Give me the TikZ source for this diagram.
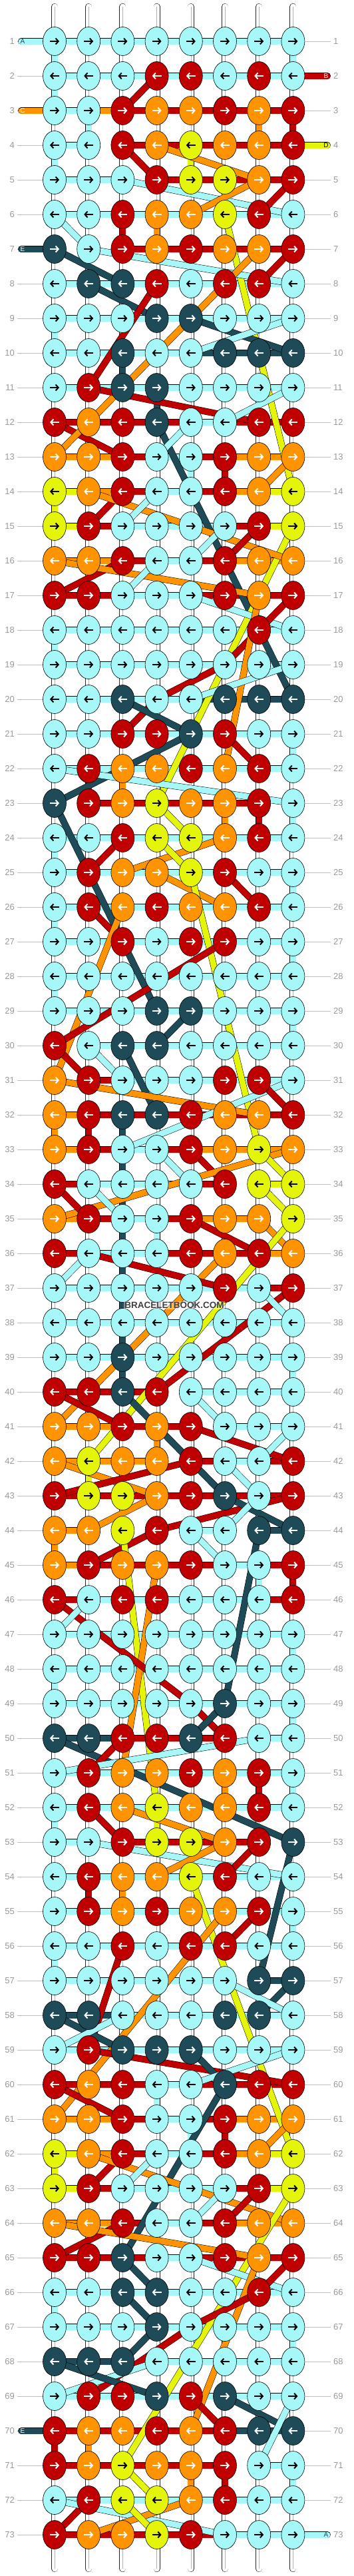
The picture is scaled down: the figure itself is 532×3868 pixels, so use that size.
\documentclass[tikz,border=0pt]{standalone}
\usepackage{fontspec}
\setmainfont{Liberation Sans}
\usetikzlibrary{arrows.meta}
\usetikzlibrary{shapes.geometric}

\pgfdeclarelayer{warp}
\pgfdeclarelayer{back}
\pgfsetlayers{warp,back,main}

\definecolor{kC}{HTML}{A6F7F7}
\definecolor{kR}{HTML}{C00000}
\definecolor{kO}{HTML}{FF9400}
\definecolor{kY}{HTML}{E5F50A}
\definecolor{kD}{HTML}{1E4B57}
\colorlet{aC}{black}
\colorlet{aY}{black}
\colorlet{aR}{white}
\colorlet{aO}{white}
\colorlet{aD}{white}

\tikzset{
  knot/.style={ellipse, draw=black, line width=0.6pt, minimum width=35pt, minimum height=43pt, inner sep=0pt},
  knotarrow/.style={line width=2pt, -{Straight Barb[length=4pt,width=9pt]}},
  strand/.style={draw=black, line width=0.5pt, double=#1, double distance=9pt},
  tail/.style={strand=#1, line cap=round},
  warp/.style={draw=black!85, line width=0.5pt, double=white, double distance=9pt, line cap=round},
  warpmid/.style={draw=black!30, line width=0.6pt},
  rowlabel/.style={text=black!40, font=\fontsize{13}{13}\selectfont, inner sep=4pt},
  rowline/.style={draw=black!25, line width=0.8pt},
  taillabel/.style={font=\fontsize{10}{10}\selectfont, inner sep=0pt}
}

\begin{document}
\begin{tikzpicture}[x=1pt,y=-1pt]
\useasboundingbox (0,0) rectangle (532,3868);

\foreach \cl in {1,...,8} {
  \coordinate (wt-\cl) at ({82+(\cl-1)*51.2},10);
  \coordinate (wb-\cl) at ({82+(\cl-1)*51.2},3857);
  \begin{pgfonlayer}{warp}
    \draw[warp] (wt-\cl) -- (wb-\cl);
    \draw[warpmid] (wt-\cl) -- (wb-\cl);
  \end{pgfonlayer}
}

\foreach \rw/\kn/\br in {
 1/{C,C,C,C,C,C,C,C}/{C,C,C,C,C,C,C},
 2/{C,C,C,R,R,C,R,C}/{C,C,C,C,C,C,C},
 3/{C,C,R,O,O,R,O,R}/{C,O,R,R,R,R,R},
 4/{C,C,R,O,Y,O,O,R}/{C,-,R,R,R,R,R},
 5/{C,C,C,R,Y,Y,O,R}/{C,C,-,R,R,R,R},
 6/{C,C,R,O,O,Y,R,C}/{C,C,C,C,C,C,C},
 7/{D,C,R,O,R,O,O,R}/{-,-,R,R,R,R,R},
 8/{C,D,D,R,C,R,R,C}/{C,C,C,C,C,C,C},
 9/{C,C,C,D,D,C,C,C}/{C,C,C,C,C,C,C},
 10/{C,C,D,C,C,D,D,D}/{C,C,C,C,D,D,D},
 11/{C,R,D,D,C,C,C,C}/{C,C,C,C,C,C,C},
 12/{R,O,R,D,C,C,R,R}/{R,R,R,R,C,R,R},
 13/{O,O,R,C,C,R,O,O}/{O,O,R,C,R,O,O},
 14/{Y,O,R,C,C,R,O,Y}/{Y,O,R,C,R,O,Y},
 15/{Y,R,C,C,C,C,R,Y}/{Y,R,C,C,C,R,Y},
 16/{O,O,R,C,C,R,O,O}/{O,O,R,C,R,O,O},
 17/{R,R,C,C,C,R,O,R}/{R,R,C,C,R,R,R},
 18/{C,C,C,C,C,C,R,C}/{C,C,C,C,C,C,C},
 19/{C,C,C,C,C,C,C,C}/{C,C,C,C,C,C,C},
 20/{C,C,D,C,C,D,D,D}/{C,C,C,C,D,D,D},
 21/{C,C,R,R,D,R,C,C}/{C,C,C,C,C,C,C},
 22/{C,R,O,O,R,O,R,C}/{C,C,C,C,C,C,C},
 23/{D,R,O,Y,O,O,R,C}/{-,R,R,R,R,R,-},
 24/{C,C,R,Y,Y,O,R,C}/{C,C,C,C,C,C,C},
 25/{C,R,O,O,Y,R,C,C}/{C,C,C,C,C,C,C},
 26/{C,R,O,R,O,O,R,C}/{C,C,C,C,C,C,C},
 27/{C,C,R,C,R,R,C,C}/{C,C,C,C,C,C,C},
 28/{C,C,C,C,C,C,C,C}/{C,C,C,C,C,C,C},
 29/{C,C,C,D,D,C,C,C}/{C,C,C,C,C,C,C},
 30/{R,C,D,D,C,C,C,C}/{-,C,C,C,C,C,C},
 31/{O,R,C,C,C,R,R,C}/{-,R,C,C,C,C,C},
 32/{O,R,D,D,R,O,O,R}/{O,R,R,R,R,R,R},
 33/{O,R,C,C,R,O,Y,O}/{O,R,C,R,O,O,O},
 34/{R,C,C,C,C,R,Y,Y}/{R,C,C,C,R,-,Y},
 35/{O,R,C,C,R,O,O,Y}/{O,R,C,R,O,O,-},
 36/{R,C,C,C,R,O,R,O}/{R,C,C,R,R,R,O},
 37/{C,C,C,C,C,R,C,R}/{C,C,C,C,C,C,R},
 38/{C,C,C,C,C,C,C,C}/{C,C,C,C,C,C,C},
 39/{C,C,D,C,C,C,C,C}/{C,C,C,C,C,C,C},
 40/{R,R,D,R,C,C,C,C}/{R,R,R,-,C,C,C},
 41/{O,O,R,O,R,C,C,C}/{O,O,R,R,-,C,C},
 42/{O,Y,O,O,R,C,C,R}/{O,O,O,-,R,C,R},
 43/{R,Y,Y,O,R,D,C,R}/{R,R,R,R,R,R,R},
 44/{O,O,Y,R,C,C,D,D}/{O,-,-,-,C,-,D},
 45/{O,R,O,O,R,C,C,R}/{O,R,R,R,R,C,R},
 46/{R,C,R,R,C,C,C,R}/{R,C,C,C,C,C,R},
 47/{C,C,C,C,C,C,C,C}/{C,C,C,C,C,C,C},
 48/{C,C,C,C,C,C,C,C}/{C,C,C,C,C,C,C},
 49/{C,C,C,C,C,D,C,C}/{C,C,C,C,C,C,C},
 50/{D,D,R,R,D,R,C,C}/{D,D,R,R,R,-,C},
 51/{C,R,O,O,R,O,R,C}/{C,C,C,C,C,C,C},
 52/{C,R,O,Y,O,O,R,C}/{C,C,C,C,C,C,C},
 53/{C,C,R,Y,Y,O,R,D}/{C,-,R,R,R,R,-},
 54/{C,R,O,O,Y,R,C,C}/{C,C,C,C,C,C,C},
 55/{C,R,O,R,O,O,R,C}/{C,C,C,C,C,C,C},
 56/{C,C,R,C,R,R,C,C}/{C,C,C,C,C,C,C},
 57/{C,C,C,C,C,C,D,D}/{C,C,C,C,C,-,D},
 58/{D,D,C,C,C,D,D,C}/{D,D,C,C,C,C,C},
 59/{C,R,D,D,D,C,C,C}/{C,C,C,C,C,C,C},
 60/{R,O,R,C,C,D,R,R}/{R,R,R,C,R,R,R},
 61/{O,O,R,C,C,R,O,O}/{O,O,R,C,R,O,O},
 62/{Y,O,R,C,C,R,O,Y}/{Y,O,R,C,R,O,Y},
 63/{Y,R,C,C,C,C,R,Y}/{Y,R,C,C,C,R,Y},
 64/{O,O,R,C,C,R,O,O}/{O,O,R,C,R,O,O},
 65/{R,R,D,C,C,R,O,R}/{R,R,R,C,R,R,R},
 66/{C,C,D,D,C,C,R,C}/{C,C,C,C,C,C,C},
 67/{C,C,C,D,C,C,C,C}/{C,C,C,C,C,C,C},
 68/{D,D,D,C,C,C,C,C}/{D,D,-,C,C,C,C},
 69/{C,R,R,D,R,D,C,C}/{C,C,C,C,C,C,C},
 70/{R,O,O,R,O,R,D,D}/{R,R,R,R,R,D,D},
 71/{R,O,Y,O,O,R,C,C}/{R,R,R,R,R,-,C},
 72/{C,R,Y,Y,O,R,C,C}/{C,C,C,C,C,C,C},
 73/{R,O,O,Y,R,C,C,C}/{R,R,R,R,R,C,C}} {
  \pgfmathsetmacro\yy{62+(\rw-1)*52}
  \foreach \kc [count=\cl] in \kn {
    \node[knot, fill=k\kc] (k-\rw-\cl) at ({82+(\cl-1)*51.2},\yy) {};
    \ifodd\rw
      \draw[knotarrow, draw=a\kc] ([xshift=-7pt]k-\rw-\cl.center) -- ([xshift=7pt]k-\rw-\cl.center);
    \else
      \draw[knotarrow, draw=a\kc] ([xshift=7pt]k-\rw-\cl.center) -- ([xshift=-7pt]k-\rw-\cl.center);
    \fi
  }
  \node[rowlabel, anchor=east] (ln-\rw) at (26,\yy) {\rw};
  \node[rowlabel, anchor=west] (rn-\rw) at (497,\yy) {\rw};
  \begin{pgfonlayer}{warp}
    \draw[rowline] (ln-\rw.east) -- (k-\rw-1.center);
    \draw[rowline] (k-\rw-8.center) -- (rn-\rw.west);
  \end{pgfonlayer}
  \begin{pgfonlayer}{back}
    \foreach \bc [count=\cl] in \br {
      \if\bc-\else
        \pgfmathtruncatemacro\nx{\cl+1}
        \draw[strand=k\bc] (k-\rw-\cl.center) -- (k-\rw-\nx.center);
      \fi
    }
  \end{pgfonlayer}
}

% threads carried behind the knots
\begin{pgfonlayer}{back}
\foreach \fa/\fb/\fc in {
 1-1/2-1/C,
 1-8/2-8/C, 2-1/3-1/C, 3-2/4-2/C, 3-7/4-7/O, 3-8/4-8/R, 4-1/5-1/C, 4-5/5-5/Y,
 6-3/7-3/R, 6-4/7-4/O, 9-1/10-1/C, 10-3/11-3/D, 11-4/12-4/D, 13-5/14-5/C,
 13-6/14-6/R, 14-1/15-1/Y, 18-1/19-1/C, 21-8/22-8/C, 22-2/23-2/R, 22-3/23-3/O,
 23-6/24-6/O, 23-7/24-7/R, 23-8/24-8/C, 24-1/25-1/C, 25-8/26-8/C, 26-1/27-1/C,
 27-8/28-8/C, 28-1/29-1/C, 29-8/30-8/C, 32-1/33-1/O, 32-2/33-2/R, 32-3/40-3/D,
 35-4/36-4/C, 39-8/40-8/C, 41-4/42-4/O, 42-2/43-2/Y, 44-1/45-1/O, 45-7/46-7/C,
 45-8/46-8/R, 47-8/48-8/C, 48-1/49-1/C, 49-8/50-8/C, 51-6/52-6/O, 51-7/52-7/R,
 51-8/52-8/C, 52-1/53-1/C, 52-4/53-4/Y, 54-2/55-2/R, 54-3/55-3/O, 55-8/56-8/C,
 56-1/57-1/C, 60-4/61-4/C, 61-5/62-5/C, 61-6/62-6/R, 62-1/63-1/Y, 64-4/65-4/C,
 66-1/67-1/C, 67-8/68-8/C, 70-1/71-1/R, 70-2/71-2/O, 71-5/72-5/O, 71-6/72-6/R,
 71-8/72-8/C,
 2-4/3-3/R, 4-3/5-4/R, 4-4/5-7/O, 5-3/6-8/C, 5-7/6-5/O, 5-8/6-7/R, 6-1/7-2/C,
 6-6/14-8/Y, 7-2/8-8/C, 7-1/8-3/D, 8-2/9-4/D, 8-4/11-2/R, 7-7/12-2/O, 7-8/8-7/R,
 9-5/10-8/D, 9-8/10-5/C, 11-2/12-7/R, 11-8/12-6/C, 12-1/13-3/R, 12-2/13-1/O,
 12-4/20-8/D, 12-5/13-4/C, 15-8/23-4/Y, 13-8/14-7/O, 14-3/15-2/R, 14-2/16-8/O,
 14-4/15-3/C, 15-6/16-5/C, 15-7/16-6/R, 16-3/17-1/R, 16-1/17-7/O, 16-4/17-3/C,
 17-5/18-8/C, 17-8/18-7/R, 18-7/19-6/R, 19-6/20-4/R, 20-4/21-3/R, 17-7/22-6/O,
 19-8/20-5/C, 20-3/21-5/D, 21-5/23-1/D, 21-6/22-7/R, 22-1/23-8/C, 23-1/29-4/D,
 23-4/24-5/Y, 24-3/25-2/R, 24-6/25-3/O, 24-4/25-5/Y, 25-4/26-6/O, 25-6/26-7/R,
 25-5/33-7/Y, 26-2/27-3/R, 26-3/31-1/O, 27-6/30-1/R, 29-5/30-4/D, 30-1/31-2/R,
 30-2/31-3/C, 30-3/32-4/D, 31-1/32-7/O, 31-8/33-3/C, 31-7/32-8/R, 33-5/34-6/R,
 33-4/34-5/C, 33-8/35-1/O, 33-7/34-8/Y, 34-1/35-2/R, 34-2/35-3/C, 34-7/35-8/Y,
 35-7/36-8/O, 35-5/36-7/R, 35-8/42-2/Y, 36-6/41-1/O, 36-2/37-6/R, 36-2/37-1/C,
 37-8/40-4/R, 37-7/38-8/C, 40-1/41-3/R, 40-3/43-6/D, 40-5/41-6/C, 41-5/42-8/R,
 41-8/42-7/C, 42-1/43-4/O, 42-5/43-1/R, 42-6/43-7/C, 43-4/44-2/O, 43-8/44-4/R,
 43-6/44-8/D, 43-7/44-6/C, 44-4/45-2/R, 44-3/52-4/Y, 45-4/51-3/O, 44-7/49-6/D,
 44-5/45-6/C, 46-1/49-5/R, 49-5/50-6/R, 46-2/47-1/C, 49-6/50-5/D, 50-1/53-8/D,
 50-3/51-2/R, 50-7/51-1/C, 52-2/53-3/R, 52-3/53-6/O, 53-2/54-8/C, 53-6/54-4/O,
 53-7/54-6/R, 53-8/57-7/D, 54-5/62-8/Y, 55-6/61-1/O, 55-7/56-6/R, 56-3/59-2/R,
 57-8/58-7/D, 57-6/58-8/C, 58-1/59-3/D, 58-3/59-1/C, 59-2/60-8/R, 59-5/60-6/D,
 59-8/60-5/C, 60-1/61-3/R, 60-6/65-3/D, 61-8/62-7/O, 62-3/63-2/R, 62-2/64-8/O,
 62-4/63-3/C, 63-6/64-5/C, 63-7/64-6/R, 63-8/71-3/Y, 64-3/65-1/R, 64-1/65-7/O,
 65-3/66-4/D, 65-5/66-8/C, 65-8/66-7/R, 65-7/70-5/O, 66-7/67-5/R, 66-3/67-4/D,
 67-4/68-3/D, 67-5/69-2/R, 68-4/69-1/C, 68-1/69-4/D, 69-5/70-6/R, 69-6/70-8/D,
 69-8/71-7/C, 71-3/72-4/Y, 72-2/73-1/R, 72-1/73-6/C, 72-5/73-2/O, 72-3/73-4/Y}
  \draw[strand=k\fc] (k-\fa.center) -- (k-\fb.center);

\coordinate (tA) at (32,62);
\coordinate (tB) at (492,114);
\coordinate (tC) at (32,166);
\coordinate (tD) at (492,218);
\coordinate (tE) at (32,374);
\coordinate (tE2) at (32,3650);
\coordinate (tA2) at (492,3806);
\draw[tail=kC] (tA) -- (k-1-1.center);
\draw[tail=kR] (k-2-8.center) -- (tB);
\draw[tail=kO] (tC) -- (k-3-1.center);
\draw[tail=kY] (k-4-8.center) -- (tD);
\draw[tail=kD] (tE) -- (k-7-1.center);
\draw[tail=kD] (tE2) -- (k-70-1.center);
\draw[tail=kC] (k-73-8.center) -- (tA2);
\end{pgfonlayer}

\node[taillabel, text=kD] (la) at (34,62) {A};
\node[taillabel, text=white] (lb) at (490,114) {B};
\node[taillabel, text=white] (lc) at (34,166) {C};
\node[taillabel, text=black] (ld) at (490,218) {D};
\node[taillabel, text=white] (le) at (34,374) {E};
\node[taillabel, text=white] (le2) at (34,3650) {E};
\node[taillabel, text=kD] (la2) at (490,3806) {A};

\node[font=\fontsize{13.5}{13.5}\selectfont\bfseries, text=black!75, fill=white, fill opacity=0.4, text opacity=1, inner sep=1pt] (mark) at (262,1960) {BRACELETBOOK.COM};

\end{tikzpicture}
\end{document}
